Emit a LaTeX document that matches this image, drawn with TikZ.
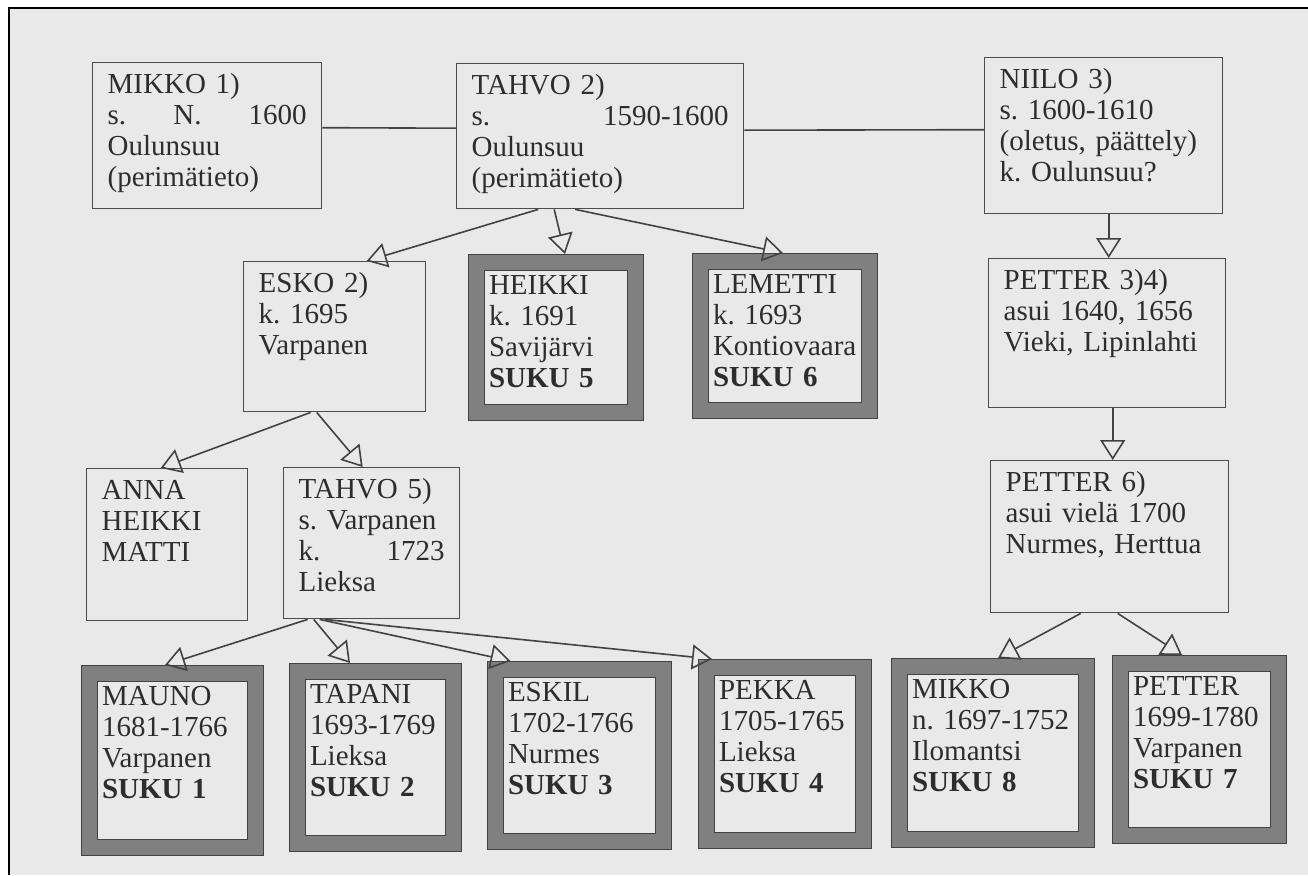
\documentclass[tikz,border=0pt]{standalone}
\usepackage{fontspec}
\setmainfont{Liberation Serif}
\usetikzlibrary{arrows.meta}
\definecolor{paper}{RGB}{233,233,233}
\definecolor{ink}{RGB}{45,45,45}
\definecolor{framegray}{RGB}{128,128,128}
\hyphenpenalty=10000
\exhyphenpenalty=10000
\frenchspacing

\begin{document}
\begin{tikzpicture}[x=1pt, y=-1pt, every node/.style={font=\fontsize{29}{31}\selectfont, text=ink, align=left, anchor=north west, inner ysep=0pt}, fam/.style={draw=ink!85, line width=1.4pt, inner xsep=15pt, text height=31pt}, suku/.style={draw=ink!90, line width=0.9pt, double=framegray, double distance=15.2pt, inner xsep=12.5pt, outer sep=8.5pt, text height=31.5pt}, link/.style={line width=1.6pt, draw=ink!90}, kid/.style={-{Triangle[open,length=20pt,width=25pt]}, line width=1.6pt, draw=ink!90}]
  \useasboundingbox (0,0) rectangle (1308,875);
  \fill[white] (0,0) rectangle (1308,875);
  \fill[paper] (9,8) rectangle (1308,875);
  \draw[line width=1.5pt, black] (9,875) -- (9,8) -- (1308,8);
  % oldest generation
  \node[fam, text width=199pt, text depth=115pt] (mikkoA) at (92,62) {MIKKO 1)\\s.\hfill N.\hfill 1600\\Oulunsuu\\(perimätieto)};
  \node[fam, text width=257pt, text depth=114pt] (tahvoA) at (456,63) {TAHVO 2)\\s.\hfill 1590-1600\\Oulunsuu\\(perimätieto)};
  \node[fam, text width=208pt, text depth=125pt] (niilo) at (984,57) {NIILO 3)\\s. 1600-1610\\(oletus, päättely)\\k. Oulunsuu?};
  % second generation
  \node[fam, text width=152pt, text depth=119pt] (esko) at (243,261) {ESKO 2)\\k. 1695\\Varpanen};
  \node[suku, text width=134pt, text depth=118.5pt] (heikki) at (468,254) {HEIKKI\\k. 1691\\Savijärvi\\\textbf{SUKU 5}};
  \node[suku, text width=144pt, text depth=117.5pt] (lemetti) at (692,253) {LEMETTI\\k. 1693\\Kontiovaara\\\textbf{SUKU 6}};
  \node[fam, text width=207pt, text depth=118pt] (petterA) at (988,258) {PETTER 3)4)\\asui 1640, 1656\\Vieki, Lipinlahti};
  % third generation
  \node[fam, text width=131pt, text depth=121pt] (anna) at (86,468) {ANNA\\HEIKKI\\MATTI};
  \node[fam, text width=146pt, text depth=120pt] (tahvoB) at (283,467) {TAHVO 5)\\s. Varpanen\\k.\hfill 1723\\Lieksa};
  \node[fam, text width=208pt, text depth=121pt] (petterB) at (990,460) {PETTER 6)\\asui vielä 1700\\Nurmes, Herttua};
  % the eight families
  \node[suku, text width=141pt, text depth=142.5pt] (mauno) at (81,665) {MAUNO\\1681-1766\\Varpanen\\\textbf{SUKU 1}};
  \node[suku, text width=131pt, text depth=140.5pt] (tapani) at (289,663) {TAPANI\\1693-1769\\Lieksa\\\textbf{SUKU 2}};
  \node[suku, text width=143pt, text depth=140.5pt] (eskil) at (487,661) {ESKIL\\1702-1766\\Nurmes\\\textbf{SUKU 3}};
  \node[suku, text width=132pt, text depth=141.5pt] (pekka) at (698,659) {PEKKA\\1705-1765\\Lieksa\\\textbf{SUKU 4}};
  \node[suku, text width=162pt, text depth=141.5pt] (mikkoB) at (891,658) {MIKKO\\n. 1697-1752\\Ilomantsi\\\textbf{SUKU 8}};
  \node[suku, text width=133pt, text depth=140.5pt] (petterC) at (1112,655) {PETTER\\1699-1780\\Varpanen\\\textbf{SUKU 7}};
  % connectors
  \draw[link] ([yshift=8pt]mikkoA.east) -- ([yshift=8pt]tahvoA.west);
  \draw[link] ([yshift=6pt]tahvoA.east) -- ([yshift=6pt]niilo.west);
  \draw[kid] ([xshift=-62pt]tahvoA.south) -- ([xshift=32pt]esko.north);
  \draw[kid] ([xshift=-46pt]tahvoA.south) -- ([xshift=9pt]heikki.north);
  \draw[kid] ([xshift=-25pt]tahvoA.south) -- ([xshift=-2pt]lemetti.north);
  \draw[kid] ([xshift=5pt]niilo.south) -- ([xshift=1.5pt]petterA.north);
  \draw[kid] ([xshift=5.5pt]petterA.south) -- ([xshift=3pt]petterB.north);
  \draw[kid] ([xshift=-24pt]esko.south) -- ([xshift=-6.5pt]anna.north);
  \draw[kid] ([xshift=-18pt]esko.south) -- ([xshift=-9pt]tahvoB.north);
  \draw[kid] ([xshift=-64pt]tahvoB.south) -- ([xshift=-7.5pt]mauno.north);
  \draw[kid] ([xshift=-58pt]tahvoB.south) -- ([xshift=-25.5pt]tapani.north);
  \draw[kid] ([xshift=-52pt]tahvoB.south) -- ([xshift=-69pt]eskil.north);
  \draw[kid] ([xshift=-47pt]tahvoB.south) -- ([xshift=-73pt]pekka.north);
  \draw[kid] ([xshift=-29pt]petterB.south) -- ([xshift=5pt]mikkoB.north);
  \draw[kid] ([xshift=8pt]petterB.south) -- ([xshift=-17.5pt]petterC.north);
\end{tikzpicture}
\end{document}
